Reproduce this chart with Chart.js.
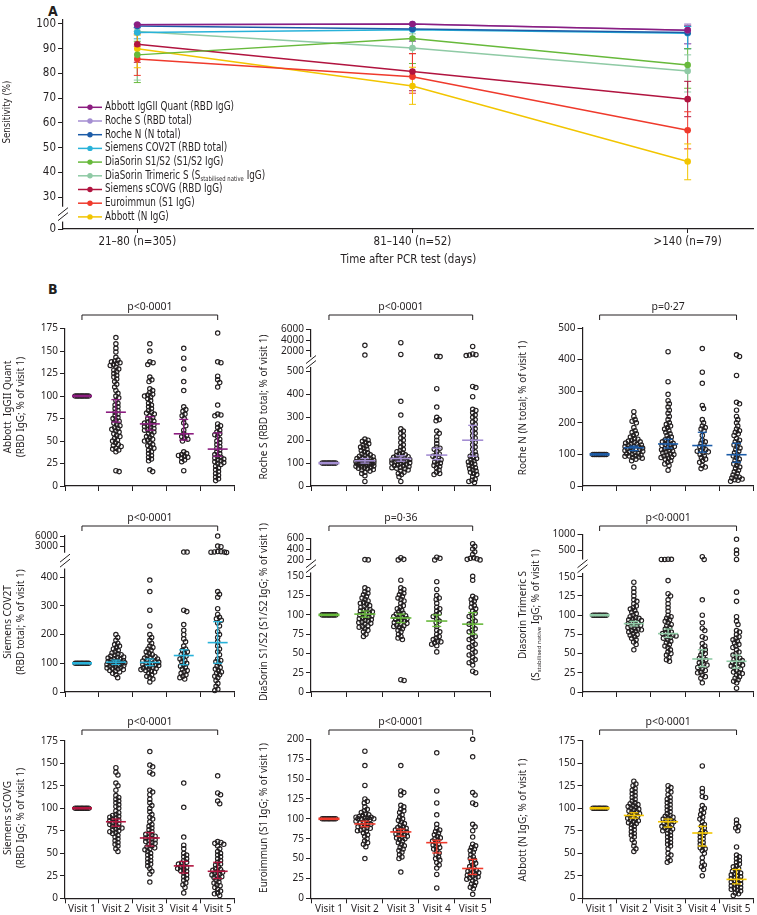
<!DOCTYPE html>
<html>
<head>
<meta charset="utf-8">
<script src="https://cdn.jsdelivr.net/npm/chart.js@4.4.1/dist/chart.umd.min.js"></script>
<style>
  html, body { margin: 0; padding: 0; background: #fff; }
  body { position: relative; width: 757px; height: 915px; overflow: hidden; }
  canvas { position: absolute; }
  .tag { position: absolute; font: bold 14px 'Liberation Sans Narrow', 'DejaVu Sans Condensed', sans-serif; color: #231f20; }
</style>
</head>
<body>
<div class="tag" style="left:48px;top:3px">A</div>
<div class="tag" style="left:48px;top:281px">B</div>
<canvas id="chartA" width="757" height="270" style="left:0;top:0"></canvas>
<script>
// ------------------------------
// Panel A: sensitivity over time
// ------------------------------
const timeLabels = ['21–80 (n=305)', '81–140 (n=52)', '>140 (n=79)'];
const yTicksA = [0, 30, 40, 50, 60, 70, 80, 90, 100];
const assayNames = [
  'Abbott IgGII Quant (RBD IgG)', 'Roche S (RBD total)', 'Roche N (N total)', 'Siemens COV2T (RBD total)',
  'DiaSorin S1/S2 (S1/S2 IgG)', 'DiaSorin Trimeric S (S_{stabilised native} IgG)', 'Siemens sCOVG (RBD IgG)',
  'Euroimmun (S1 IgG)', 'Abbott (N IgG)'
];
const assayColors = ['#8c1d80', '#a48ed2', '#1c5ca8', '#29b2d9', '#67b93b', '#8fcaa5', '#b1143f', '#ef3a2c', '#f2c500'];

const sensAbbottQuant = [99.7, 100, 97.5];
const sensRocheS = [99.8, 100, 97.5];
const sensRocheN = [99.2, 98.0, 96.5];
const sensCov2t = [96.5, 97.7, 96.2];
const sensDiaS12 = [87.5, 94.1, 83.4];
const sensDiaTri = [97.0, 90.3, 81.0];
const sensScovg = [91.8, 80.8, 69.6];
const sensEuro = [85.8, 78.7, 57.0];
const sensAbbottN = [90.0, 74.9, 44.4];

const ciLoA = [[98.5, 93, 92], [98.5, 93, 92], [97, 90, 90], [94, 90, 90], [76.3, 84, 74],
               [77.3, 79, 72.5], [84.5, 73, 62.5], [79.2, 72, 49.5], [82.3, 67.5, 37]];
const ciHiA = [[100, 100, 99.5], [100, 100, 100], [99.8, 99.7, 99], [98.5, 99.7, 99], [93, 98.5, 90],
               [99.5, 96, 87.5], [96, 88, 76.8], [91, 88, 64.5], [95.5, 82.5, 51.5]];

// ------------------------------
// Panel B: % of visit 1
// ------------------------------
const visitLabels = ['Visit 1', 'Visit 2', 'Visit 3', 'Visit 4', 'Visit 5'];
const visit1 = [100, 100, 100, 100, 100, 100, 100, 100, 100];

const abbottQuantPts = [visit1,
  [16,17,38,40,41,42,44,45,46,48,50,51,53,55,56,58,60,61,63,64,65,67,68,70,72,73,75,76,78,80,82,84,86,88,90,92,95,98,100,103,106,110,113,116,119,121,123,125,127,129,130,132,134,135,136,137,138,139,140,143,149,153,158,165],
  [16,18,28,30,32,34,36,38,40,42,43,45,46,48,50,51,52,54,55,57,58,60,61,62,63,64,65,66,67,68,69,70,71,72,73,75,76,78,80,81,82,84,86,88,90,92,95,97,99,100,101,102,104,106,108,116,118,121,135,137,138,150,158],
  [17,27,29,31,32,33,34,35,36,38,50,52,53,55,56,58,62,67,70,75,78,80,83,85,88,106,116,130,142,153],
  [6,8,10,12,14,16,18,20,22,24,25,26,27,28,29,30,31,32,33,35,36,38,40,42,44,46,48,50,52,55,57,58,60,62,65,67,69,78,79,80,90,110,115,118,122,137,138,170]];
const rocheSPts = [visit1,
  [20,45,55,60,65,70,72,75,78,80,82,84,86,88,90,92,94,95,96,98,99,100,101,102,103,104,105,106,108,110,112,114,116,118,120,122,125,128,130,133,136,140,145,150,155,160,165,170,175,180,185,190,195,200,205,1200,3000],
  [20,40,50,55,60,65,70,75,78,80,82,85,88,90,92,95,98,100,102,104,106,108,110,112,114,116,118,120,122,125,128,130,133,136,140,145,150,155,160,170,180,190,200,210,220,230,240,250,310,370,1300,3500],
  [50,55,60,70,80,85,90,95,100,105,110,115,120,125,130,135,140,150,160,165,170,185,200,215,230,240,285,290,300,345,425,900,950],
  [15,20,25,30,40,50,55,60,65,70,75,80,85,90,95,100,105,110,115,120,125,130,135,140,150,160,170,180,190,200,210,220,230,240,250,260,270,280,290,300,310,320,330,335,390,430,435,1100,1200,1250,1400,2800]];
const rocheNPts = [visit1,
  [60,80,85,88,90,92,94,95,96,98,100,102,104,106,108,110,112,113,115,117,118,120,122,124,125,126,128,130,132,134,136,138,140,142,145,148,150,155,160,165,170,175,185,200,205,210,220,235],
  [50,65,70,75,80,85,88,90,92,95,98,100,102,105,108,110,112,115,118,120,122,125,128,130,132,135,138,140,143,146,150,155,160,165,170,175,180,185,190,195,200,210,220,230,240,250,260,270,290,330,425],
  [55,60,65,75,80,85,90,95,100,105,108,110,112,115,120,125,130,135,140,145,160,175,180,185,190,200,210,245,255,325,360,435],
  [15,18,20,22,25,28,30,35,40,45,50,55,60,65,70,75,80,85,90,95,100,105,110,115,120,125,130,135,140,145,150,160,165,170,175,180,190,200,210,220,240,260,265,350,410,415]];
const cov2tPts = [visit1,
  [50,60,65,70,72,75,78,80,82,84,86,88,90,92,94,95,96,98,100,101,102,104,105,106,108,110,112,114,116,118,120,122,125,128,130,133,136,140,145,150,155,160,165,170,180,190,200],
  [35,45,50,55,60,65,70,72,75,78,80,82,84,86,88,90,92,94,96,98,100,102,104,106,108,110,112,115,118,120,123,126,130,135,140,145,150,155,160,170,180,190,200,230,285,350,390],
  [45,50,55,60,65,70,75,80,85,90,95,100,105,110,115,120,125,130,135,140,145,150,160,175,185,200,215,235,280,285,1200,1200],
  [5,10,20,30,40,50,55,60,65,70,75,80,85,90,100,105,110,115,130,140,150,160,175,190,200,210,230,240,250,255,260,270,290,330,340,350,1100,1150,1200,1250,1300,1350,2800,3000,6000]];
const diaS12Pts = [visit1,
  [72,75,78,80,82,84,85,86,88,89,90,91,92,93,94,95,96,97,98,99,100,101,102,103,104,105,106,107,108,110,111,112,114,115,116,118,120,122,124,126,128,130,133,135,200,205],
  [15,16,68,70,72,75,78,80,82,84,85,86,87,88,89,90,91,92,93,94,95,96,97,98,99,100,101,102,104,106,108,110,112,115,118,120,122,124,126,128,130,133,135,145,200,210,240],
  [52,60,62,64,65,66,68,70,72,75,78,80,85,90,92,95,98,100,102,105,108,110,115,120,122,125,133,143,200,230,250],
  [25,27,35,38,40,42,45,48,50,52,55,58,60,62,65,68,70,72,75,78,80,82,85,88,90,92,95,98,100,102,105,108,110,112,115,118,120,122,124,145,150,200,210,220,230,240,300,350,400,450,500]];
const diaTriPts = [visit1,
  [55,62,65,68,70,72,74,75,76,78,79,80,81,82,83,84,85,86,87,88,89,90,91,92,93,94,95,96,97,98,100,102,104,106,108,110,112,115,118,120,125,130,135,143],
  [40,42,45,48,50,52,55,58,60,62,64,66,68,70,71,72,73,74,75,76,77,78,80,82,84,86,88,90,92,94,96,98,100,105,110,115,120,125,128,145,200,200,205,210],
  [12,18,20,22,25,26,28,30,32,34,35,36,38,40,42,44,45,48,50,52,55,57,60,63,70,72,80,83,90,100,120,200,290],
  [5,12,14,16,18,20,22,24,25,26,28,30,32,33,34,35,36,37,38,40,41,42,44,45,48,50,52,55,58,60,62,64,66,68,70,72,75,78,80,88,92,98,118,130,200,380,500,840]];
const scovgPts = [visit1,
  [52,55,58,60,62,64,66,68,70,72,73,74,75,76,77,78,79,80,81,82,83,84,85,86,87,88,89,90,91,92,93,95,97,100,102,104,106,108,110,112,114,120,125,128,137,140,145],
  [18,27,30,33,36,38,40,42,44,46,48,50,52,54,55,56,57,58,60,61,62,63,64,65,66,67,68,69,70,71,72,74,76,78,80,82,85,88,90,93,96,100,103,106,110,115,118,120,138,140,146,148,163],
  [6,12,15,17,20,22,24,26,28,30,31,32,33,34,35,36,38,39,40,42,44,46,48,50,55,59,68,101,128],
  [3,5,6,8,10,12,14,15,17,18,20,22,23,24,25,26,27,28,29,30,31,32,33,35,37,38,40,42,44,46,48,50,52,55,58,60,61,62,63,105,108,115,117,136]];
const euroPts = [visit1,
  [50,65,68,70,72,75,78,80,82,84,85,86,87,88,89,90,91,92,93,94,95,96,97,98,99,100,100,100,101,101,102,102,103,104,105,106,108,110,112,115,120,122,125,142,167,185],
  [33,50,52,55,58,60,62,64,66,68,70,72,74,75,76,77,78,79,80,81,82,83,84,85,86,87,88,89,90,92,94,96,98,100,102,105,108,110,112,115,117,130,133,135,167],
  [13,30,38,42,45,48,50,52,55,57,60,62,64,65,67,68,70,72,73,75,76,78,80,82,84,86,88,93,105,120,135,183],
  [5,12,14,16,18,20,22,24,25,26,27,28,29,30,31,32,33,34,35,36,38,40,42,44,46,48,50,52,55,58,60,62,64,66,68,77,85,90,93,118,120,130,133,178,200]];
const abbottNPts = [visit1,
  [52,55,58,62,65,68,70,72,74,76,78,80,82,83,84,85,86,87,88,89,90,91,92,93,94,95,96,97,98,99,100,101,102,103,104,105,106,108,110,112,114,116,118,120,122,125,127,130],
  [40,42,45,48,50,55,58,60,62,64,66,68,70,72,74,75,76,77,78,79,80,81,82,83,84,85,86,87,88,89,90,91,92,94,96,98,100,102,104,106,108,110,112,115,118,120,123,125],
  [25,32,35,37,40,45,50,53,55,56,58,60,62,64,66,68,70,72,73,75,78,80,82,85,88,90,93,95,98,100,103,112,113,118,122,147],
  [3,5,6,8,9,10,11,12,13,14,15,16,17,18,19,20,21,22,23,24,25,26,27,28,29,30,32,33,35,36,38,40,42,44,46,48,57,75,78,80,83,87]];

// medians and 95% CI per visit
const medAbbottQuant = [100, 82, 69, 58, 41],   loAbbottQuant = [100, 71, 62, 51, 33],   hiAbbottQuant = [100, 96, 77, 74, 59];
const medRocheS = [100, 110, 120, 135, 200],     loRocheS = [100, 100, 108, 115, 130],    hiRocheS = [100, 120, 132, 165, 265];
const medRocheN = [100, 121, 133, 128, 99],      loRocheN = [100, 112, 120, 107, 75],     hiRocheN = [100, 126, 148, 170, 135];
const medCov2t = [100, 104, 103, 127, 172],      loCov2t = [100, 96, 92, 95, 100],        hiCov2t = [100, 111, 115, 147, 245];
const medDiaS12 = [100, 101, 96, 92, 88],        loDiaS12 = [100, 97, 90, 85, 75],        hiDiaS12 = [100, 105, 101, 100, 103];
const medDiaTri = [100, 89, 76, 43, 40],         loDiaTri = [100, 86, 71, 33, 31],        hiDiaTri = [100, 92, 82, 55, 48];
const medScovg = [100, 85, 67, 36, 30],          loScovg = [100, 80, 58, 28, 22],         hiScovg = [100, 88, 73, 41, 40];
const medEuro = [100, 93.5, 83.5, 70, 37.5],     loEuro = [100, 90, 78, 57, 30],          hiEuro = [100, 97, 87, 73, 49];
const medAbbottN = [100, 92, 85, 72.5, 21],      loAbbottN = [100, 89, 79, 58, 16],       hiAbbottN = [100, 95, 88, 80, 32];

const ticks175 = [0, 25, 50, 75, 100, 125, 150, 175];
const ticks200 = [0, 25, 50, 75, 100, 125, 150, 175, 200];
const ticksRocheS = [0, 100, 200, 300, 400, 500, 2000, 4000, 6000];
const ticksRocheN = [0, 100, 200, 300, 400, 500];
const ticksCov2t = [0, 100, 200, 300, 400, 3000, 6000];
const ticksDiaS12 = [0, 25, 50, 75, 100, 125, 150, 200, 400, 600];
const ticksDiaTri = [0, 25, 50, 75, 100, 125, 150, 500, 1000];

const INK = '#231f20';
const FONT_A = "'Liberation Sans Narrow', 'DejaVu Sans Condensed', sans-serif";
const FONT_B = "'Noto Sans', 'Open Sans', sans-serif";

// ------------------------------
// Escala lineal con corte
// ------------------------------
function warpValue(b, v) {
  if (!b || v <= b.lowTop) return v;
  return b.lowTop + b.gap + (v - b.highBottom) * b.k;
}
class BrokenScale extends Chart.LinearScale {
  buildTicks() { return this.options.tickValues.map(v => ({ value: v })); }
  getPixelForValue(v) { return super.getPixelForValue(warpValue(this.options.brk, v)); }
  vpx(vv) { return Chart.LinearScale.prototype.getPixelForValue.call(this, vv); }
}
BrokenScale.id = 'broken';
BrokenScale.defaults = {};
Chart.register(BrokenScale);

function richParts(str) {
  const out = []; const re = /_\{([^}]*)\}/g; let last = 0, m;
  while ((m = re.exec(str))) {
    if (m.index > last) out.push({ t: str.slice(last, m.index) });
    out.push({ t: m[1], sub: true });
    last = re.lastIndex;
  }
  if (last < str.length) out.push({ t: str.slice(last) });
  return out;
}
function richWidth(ctx, str, size, family) {
  let w = 0;
  richParts(str).forEach(p => { ctx.font = (p.sub ? size * 0.6 : size) + 'px ' + family; w += ctx.measureText(p.t).width; });
  return w;
}
function drawRich(ctx, str, x, y, size, family, align, sx) {
  const parts = richParts(str);
  const fMain = size + 'px ' + family, fSub = (size * 0.6) + 'px ' + family;
  let w = 0;
  parts.forEach(p => { ctx.font = p.sub ? fSub : fMain; p.w = ctx.measureText(p.t).width; w += p.w; });
  ctx.save();
  ctx.translate(x, y); ctx.scale(sx || 1, 1);
  let cx = align === 'center' ? -w / 2 : 0;
  ctx.textAlign = 'left'; ctx.textBaseline = 'middle'; ctx.fillStyle = INK;
  parts.forEach(p => { ctx.font = p.sub ? fSub : fMain; ctx.fillText(p.t, cx, p.sub ? size * 0.3 : 0); cx += p.w; });
  ctx.restore();
}
function seg(ctx, x1, y1, x2, y2) { ctx.beginPath(); ctx.moveTo(x1, y1); ctx.lineTo(x2, y2); ctx.stroke(); }
function breakMark(ctx, x, yTop, yBot) {
  const ym = (yTop + yBot) / 2;
  ctx.save();
  ctx.fillStyle = '#fff';
  ctx.fillRect(x - 2, yTop, 4, yBot - yTop);
  ctx.strokeStyle = INK; ctx.lineWidth = 1;
  [-2.5, 2.5].forEach(o => seg(ctx, x - 5, ym + o + 4, x + 5, ym + o - 4));
  ctx.restore();
}

// ------------------------------
// Panel A
// ------------------------------
const sensLists = [sensAbbottQuant, sensRocheS, sensRocheN, sensCov2t, sensDiaS12, sensDiaTri, sensScovg, sensEuro, sensAbbottN];
const brkA = { lowTop: 0, highBottom: 30, gap: 12.9, k: 1 };

const panelAPlugin = {
  id: 'panelA',
  beforeDatasetsDraw(chart) {
    const { ctx, scales: { x, y } } = chart;
    ctx.save(); ctx.lineWidth = 1;
    sensLists.forEach((s, i) => {
      ctx.strokeStyle = assayColors[i];
      s.forEach((v, j) => {
        const px = x.getPixelForValue(j);
        const yl = y.getPixelForValue(ciLoA[i][j]), yh = y.getPixelForValue(ciHiA[i][j]);
        seg(ctx, px, yl, px, yh);
        seg(ctx, px - 3.5, yl, px + 3.5, yl);
        seg(ctx, px - 3.5, yh, px + 3.5, yh);
      });
    });
    ctx.restore();
  },
  afterDraw(chart) {
    const { ctx, chartArea, scales: { y } } = chart;
    ctx.save();
    // leyenda (texto estrecho, ancho ajustado al original)
    const sx = 129 / richWidth(ctx, assayNames[0], 11.5, FONT_A);
    assayNames.forEach((name, i) => {
      const ly = 107.3 + i * 13.7;
      ctx.strokeStyle = assayColors[i]; ctx.fillStyle = assayColors[i]; ctx.lineWidth = 1.5;
      seg(ctx, 78, ly, 102, ly);
      ctx.beginPath(); ctx.arc(90, ly, 2.7, 0, Math.PI * 2); ctx.fill();
      drawRich(ctx, name, 105, ly, 11.5, FONT_A, 'left', sx);
    });
    // titulo eje y
    ctx.translate(7, 112); ctx.rotate(-Math.PI / 2);
    drawRich(ctx, 'Sensitivity (%)', 0, 0, 11, FONT_A, 'center', 63 / richWidth(ctx, 'Sensitivity (%)', 11, FONT_A));
    ctx.restore();
    breakMark(ctx, chartArea.left, y.vpx(9), y.vpx(3));
  }
};

new Chart(document.getElementById('chartA'), {
  type: 'scatter',
  data: {
    datasets: assayNames.map((name, i) => ({
      label: name,
      data: sensLists[i].map((v, j) => ({ x: j, y: v })),
      showLine: true,
      borderColor: assayColors[i], backgroundColor: assayColors[i],
      borderWidth: 1.5, pointRadius: 3.3, pointHoverRadius: 3.3, pointBorderWidth: 0
    }))
  },
  options: {
    responsive: false, animation: false, devicePixelRatio: 1,
    layout: { padding: { top: 20, right: 2, left: 0, bottom: 0 } },
    plugins: { legend: { display: false }, tooltip: { enabled: false } },
    scales: {
      x: {
        type: 'broken', position: 'bottom', min: -0.27, max: 2.24, tickValues: [0, 1, 2],
        grid: { display: true, drawOnChartArea: false, tickLength: 4, tickColor: INK, tickWidth: 1 },
        border: { color: INK, width: 1.2 },
        ticks: { callback: v => timeLabels[v], font: { family: FONT_A, size: 11.5 }, color: INK, padding: 2, maxRotation: 0, autoSkip: false },
        title: { display: true, text: 'Time after PCR test (days)', font: { family: FONT_A, size: 11.5 }, color: INK, padding: { top: 0, bottom: 3 } },
        afterFit: s => { s.height = 41; }
      },
      y: {
        type: 'broken', position: 'left', min: 0, max: warpValue(brkA, 101.6), tickValues: yTicksA, brk: brkA,
        grid: { display: true, drawOnChartArea: false, tickLength: 5, tickColor: INK, tickWidth: 1 },
        border: { color: INK, width: 1.2 },
        ticks: { callback: v => String(v), font: { family: FONT_A, size: 11.5 }, color: INK, padding: 2 },
        afterFit: s => { s.width = 63; }
      }
    }
  },
  plugins: [panelAPlugin]
});

// ------------------------------
// Panel B
// ------------------------------
const cols = [{ left: 65, right: 237 }, { left: 311, right: 493 }, { left: 582.5, right: 756 }];
const rowBottoms = [486, 692, 898.3];
const bracketYs = [315, 526, 730];
const xTickVals = [-0.5, 0, 0.5, 1, 1.5, 2, 2.5, 3, 3.5, 4, 4.5];

const panels = [
  { pts: abbottQuantPts, med: medAbbottQuant, lo: loAbbottQuant, hi: hiAbbottQuant, color: assayColors[0], col: 0, row: 0, top: 328.5,
    ticks: ticks175, brk: null, maxV: 175, title: ['Abbott  IgGII Quant', '(RBD IgG; % of visit 1)'], titleX: [8, 21], titleY: 407, p: 'p<0·0001' },
  { pts: rocheSPts, med: medRocheS, lo: loRocheS, hi: hiRocheS, color: assayColors[1], col: 1, row: 0, top: 329.3,
    ticks: ticksRocheS, brk: { lowTop: 520, highBottom: 800, gap: 42.8, k: 0.0234 }, maxV: 6000, title: ['Roche S (RBD total; % of visit 1)'], titleX: [264], titleY: 407, p: 'p<0·0001' },
  { pts: rocheNPts, med: medRocheN, lo: loRocheN, hi: hiRocheN, color: assayColors[2], col: 2, row: 0, top: 328,
    ticks: ticksRocheN, brk: null, maxV: 500, title: ['Roche N (N total; % of visit 1)'], titleX: [523], titleY: 408, p: 'p=0·27' },
  { pts: cov2tPts, med: medCov2t, lo: loCov2t, hi: hiCov2t, color: assayColors[3], col: 0, row: 1, top: 536,
    ticks: ticksCov2t, brk: { lowTop: 430, highBottom: 1000, gap: 55, k: 0.01166 }, maxV: 6000, title: ['Siemens COV2T', '(RBD total; % of visit 1)'], titleX: [8, 21], titleY: 622, p: 'p<0·0001' },
  { pts: diaS12Pts, med: medDiaS12, lo: loDiaS12, hi: hiDiaS12, color: assayColors[4], col: 1, row: 1, top: 538.3,
    ticks: ticksDiaS12, brk: { lowTop: 155, highBottom: 200, gap: 16.3, k: 0.07 }, maxV: 600, title: ['DiaSorin S1/S2 (S1/S2 IgG; % of visit 1)'], titleX: [264], titleY: 612, p: 'p=0·36' },
  { pts: diaTriPts, med: medDiaTri, lo: loDiaTri, hi: hiDiaTri, color: assayColors[5], col: 2, row: 1, top: 534.3,
    ticks: ticksDiaTri, brk: { lowTop: 155, highBottom: 200, gap: 17.5, k: 0.041 }, maxV: 1000, title: ['Diasorin Trimeric S', '(S_{stabilised native} IgG; % of visit 1)'], titleX: [523, 536], titleY: 615, p: 'p<0·0001' },
  { pts: scovgPts, med: medScovg, lo: loScovg, hi: hiScovg, color: assayColors[6], col: 0, row: 2, top: 740.7,
    ticks: ticks175, brk: null, maxV: 175, title: ['Siemens sCOVG', '(RBD IgG; % of visit 1)'], titleX: [8, 21], titleY: 818, p: 'p<0·0001' },
  { pts: euroPts, med: medEuro, lo: loEuro, hi: hiEuro, color: assayColors[7], col: 1, row: 2, top: 739.3,
    ticks: ticks200, brk: null, maxV: 200, title: ['Euroimmun (S1 IgG; % of visit 1)'], titleX: [264], titleY: 818, p: 'p<0·0001' },
  { pts: abbottNPts, med: medAbbottN, lo: loAbbottN, hi: hiAbbottN, color: assayColors[8], col: 2, row: 2, top: 740.7,
    ticks: ticks175, brk: null, maxV: 175, title: ['Abbott (N IgG; % of visit 1)'], titleX: [523], titleY: 820, p: 'p<0·0001' }
];

function swarm(pys, maxHalf, d) {
  const order = pys.map((y, i) => i).sort((a, b) => pys[a] - pys[b]);
  const placed = []; const dx = new Array(pys.length);
  order.forEach(i => {
    const y = pys[i];
    const near = placed.filter(p => Math.abs(p.y - y) < d);
    const cands = [0];
    near.forEach(p => { const h = Math.sqrt(d * d - (p.y - y) ** 2); cands.push(p.x + h, p.x - h); });
    cands.sort((a, b) => Math.abs(a) - Math.abs(b));
    let best = null;
    for (const c of cands) {
      if (Math.abs(c) > maxHalf + 0.01) continue;
      if (near.every(p => (p.x - c) ** 2 + (p.y - y) ** 2 >= d * d - 0.01)) { best = c; break; }
    }
    if (best === null) {
      let bd = -1;
      for (let c = -maxHalf; c <= maxHalf; c += 0.5) {
        const md = Math.min(...near.map(p => (p.x - c) ** 2 + (p.y - y) ** 2));
        if (md > bd) { bd = md; best = c; }
      }
    }
    placed.push({ x: best, y }); dx[i] = best;
  });
  return dx;
}

function makePanel(p) {
  const col = cols[p.col], bottom = rowBottoms[p.row];
  const cLeft = Math.floor(col.left) - 66;
  const cTop = Math.floor(p.top) - 46;
  const cW = Math.ceil(col.right) + 1 - cLeft;
  const cH = Math.ceil(bottom) + 20 - cTop;
  const cv = document.createElement('canvas');
  cv.width = cW; cv.height = cH;
  cv.style.left = cLeft + 'px'; cv.style.top = cTop + 'px';
  document.body.appendChild(cv);
  const yW = col.left - cLeft;
  const xH = cTop + cH - bottom;
  const halfMed = (col.right - col.left) / 5 * 0.29;

  const decor = {
    id: 'decor',
    afterDatasetsDraw(chart) {
      const { ctx, scales: { x, y } } = chart;
      ctx.save(); ctx.strokeStyle = p.color;
      p.med.forEach((m, i) => {
        const cx = x.getPixelForValue(i);
        const ym = y.getPixelForValue(m);
        ctx.lineWidth = i === 0 ? 2.6 : 1.6;
        seg(ctx, cx - halfMed, ym, cx + halfMed, ym);
        if (i > 0) {
          const yl = y.getPixelForValue(p.lo[i]), yh = y.getPixelForValue(p.hi[i]);
          ctx.lineWidth = 1.3;
          seg(ctx, cx, yl, cx, yh);
          seg(ctx, cx - 4.5, yl, cx + 4.5, yl);
          seg(ctx, cx - 4.5, yh, cx + 4.5, yh);
        }
      });
      ctx.restore();
    },
    afterDraw(chart) {
      const { ctx, chartArea, scales: { x, y } } = chart;
      ctx.save();
      // corchete y valor p
      const by = bracketYs[p.row] - cTop;
      const x0 = x.getPixelForValue(0), x4 = x.getPixelForValue(4);
      ctx.strokeStyle = INK; ctx.lineWidth = 1;
      ctx.beginPath(); ctx.moveTo(x0, by + 5); ctx.lineTo(x0, by); ctx.lineTo(x4, by); ctx.lineTo(x4, by + 5); ctx.stroke();
      drawRich(ctx, p.p, (x0 + x4) / 2, by - 8, 10.5, FONT_B, 'center');
      // titulo eje y
      p.title.forEach((line, k) => {
        ctx.save();
        ctx.translate(p.titleX[k] - cLeft, p.titleY - cTop); ctx.rotate(-Math.PI / 2);
        drawRich(ctx, line, 0, 0, 10, FONT_B, 'center');
        ctx.restore();
      });
      ctx.restore();
      if (p.brk) breakMark(ctx, chartArea.left, y.vpx(p.brk.lowTop + p.brk.gap), y.vpx(p.brk.lowTop));
    }
  };

  const chart = new Chart(cv, {
    type: 'scatter',
    data: { datasets: [{ data: [], pointRadius: 2.2, pointHoverRadius: 2.2, pointBorderWidth: 1.15,
      borderColor: INK, backgroundColor: 'rgba(255,255,255,0)', clip: 6 }] },
    options: {
      responsive: false, animation: false, devicePixelRatio: 1,
      layout: { padding: { top: p.top - cTop, right: cLeft + cW - col.right, left: 0, bottom: 0 } },
      plugins: { legend: { display: false }, tooltip: { enabled: false } },
      scales: {
        x: {
          type: 'broken', position: 'bottom', min: -0.5, max: 4.5, tickValues: xTickVals,
          grid: { display: true, drawOnChartArea: false, tickLength: 5, tickWidth: 1,
                  tickColor: c => Number.isInteger(c.tick.value) ? 'rgba(0,0,0,0)' : INK },
          border: { color: INK, width: 1.2 },
          ticks: { display: p.row === 2, callback: v => Number.isInteger(v) ? visitLabels[v] : '',
                   autoSkip: false, maxRotation: 0, padding: 0, font: { family: FONT_B, size: 10 }, color: INK },
          afterFit: s => { s.height = xH; }
        },
        y: {
          type: 'broken', position: 'left', min: 0, max: warpValue(p.brk, p.maxV), tickValues: p.ticks, brk: p.brk,
          grid: { display: true, drawOnChartArea: false, tickLength: 5, tickColor: INK, tickWidth: 1 },
          border: { color: INK, width: 1.2 },
          ticks: { callback: v => String(v), font: { family: FONT_B, size: 10 }, color: INK, padding: 2 },
          afterFit: s => { s.width = yW; }
        }
      }
    },
    plugins: [decor]
  });

  // colocacion tipo enjambre
  const xs = chart.scales.x, ys = chart.scales.y;
  const data = [];
  p.pts.forEach((vals, vi) => {
    const cx = xs.getPixelForValue(vi);
    const dx = swarm(vals.map(v => ys.getPixelForValue(v)), vi === 0 ? 8 : 9, 3.4);
    vals.forEach((v, k) => data.push({ x: xs.getValueForPixel(cx + dx[k]), y: v }));
  });
  chart.data.datasets[0].data = data;
  chart.update('none');
}

panels.forEach(makePanel);
</script>
</body>
</html>
